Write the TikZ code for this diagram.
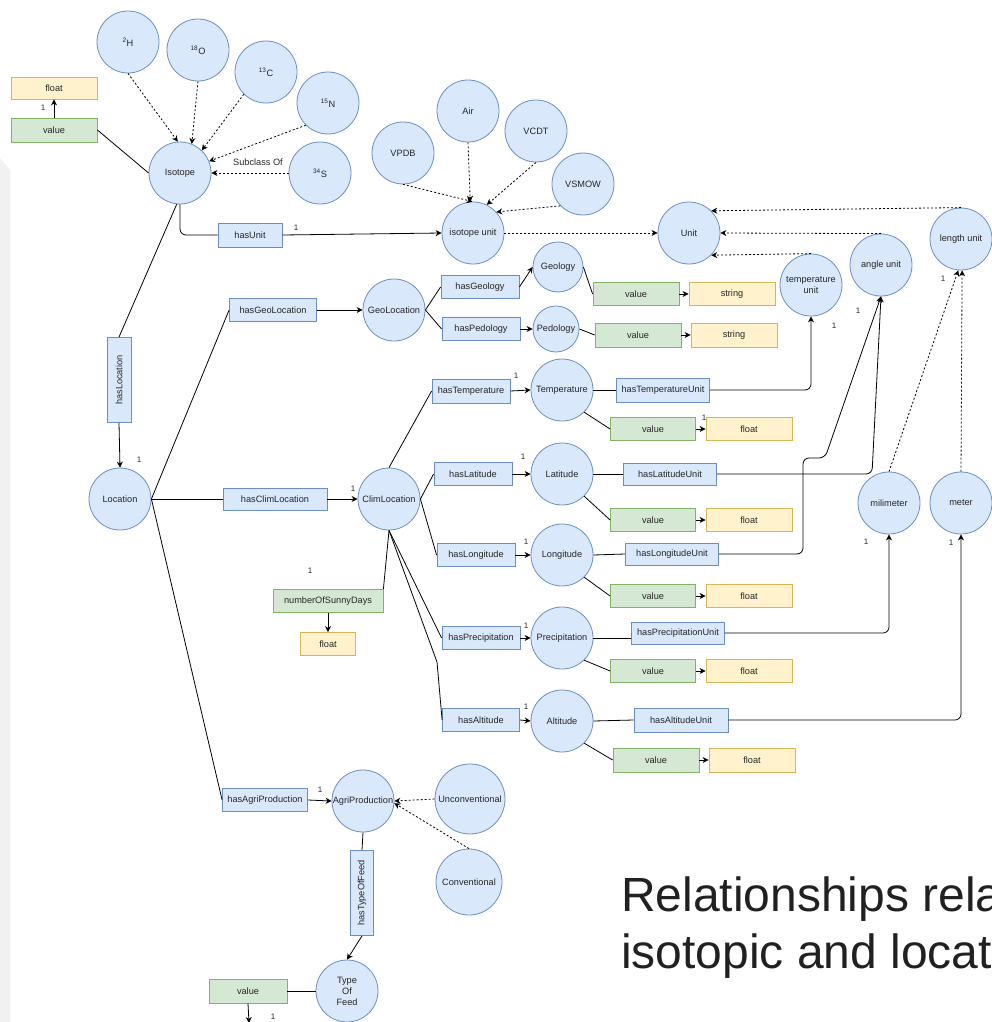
\documentclass[tikz,border=0pt]{standalone}
\usepackage{fontspec}
\setmainfont{Liberation Sans}
\usetikzlibrary{arrows.meta}

\definecolor{clsFill}{HTML}{DAE8FC}
\definecolor{clsLine}{HTML}{6C8EBF}
\definecolor{valFill}{HTML}{D5E8D4}
\definecolor{valLine}{HTML}{82B366}
\definecolor{typFill}{HTML}{FFF2CC}
\definecolor{typLine}{HTML}{D6B656}
\definecolor{sidebar}{HTML}{F1F1F1}
\definecolor{titleInk}{HTML}{212121}

\begin{document}
\begin{tikzpicture}[x=1pt,y=-1pt,
  every node/.style={font=\fontsize{9.2}{11}\selectfont, text=black!85},
  cls/.style={circle, draw=clsLine, fill=clsFill, line width=0.8pt, minimum size=62pt, inner sep=0pt, align=center},
  rel/.style={rectangle, draw=clsLine, fill=clsFill, line width=0.8pt, minimum height=23pt, inner sep=0pt},
  val/.style={rectangle, draw=valLine, fill=valFill, line width=0.8pt, minimum height=23pt, minimum width=86pt, inner sep=0pt},
  typ/.style={rectangle, draw=typLine, fill=typFill, line width=0.8pt, minimum height=23pt, minimum width=86pt, inner sep=0pt},
  link/.style={draw=black, line width=0.8pt},
  arr/.style={link, -{Stealth[length=6pt,width=6pt]}},
  sub/.style={arr, dash pattern=on 2pt off 2pt},
  card/.style={font=\fontsize{8}{9}\selectfont, inner sep=0pt},
  title/.style={anchor=base west, inner sep=0pt, text=titleInk, font=\fontsize{48}{57}\selectfont},
]
\useasboundingbox (0,0) rectangle (992,1022);
\fill[sidebar] (0,158) -- (10,170) -- (10,1022) -- (0,1022) -- cycle;

% ---------- isotopes ----------
\node[cls] (iso) at (180,173) {Isotope};
\node[cls] (h2)  at (128,42)  {\textsuperscript{2}H};
\node[cls] (o18) at (198,50)  {\textsuperscript{18}O};
\node[cls] (c13) at (266,72)  {\textsuperscript{13}C};
\node[cls] (n15) at (328,103) {\textsuperscript{15}N};
\node[cls] (s34) at (320,173) {\textsuperscript{34}S};
\node (subof) at (258,162) {Subclass Of};
\node[val, minimum height=24pt] (isoval) at (54,130) {value};
\node[typ, minimum height=22pt] (isoflt) at (54,88) {float};
\node[rel, minimum width=64pt, minimum height=24pt] (hasunit) at (250,235) {hasUnit};

% ---------- units ----------
\node[cls] (isou)  at (473,233) {isotope unit};
\node[cls] (air)   at (468,111) {Air};
\node[cls] (vcdt)  at (536,131) {VCDT};
\node[cls] (vpdb)  at (403,153) {VPDB};
\node[cls] (vsmow) at (583,184) {VSMOW};
\node[cls] (unit)  at (689,233) {Unit};
\node[cls] (lenu)  at (961,239) {length unit};
\node[cls] (angu)  at (881,265) {angle unit};
\node[cls] (tempu) at (811,285) {temperature\\unit};
\node[cls] (mili)  at (889,503) {milimeter};
\node[cls] (meter) at (961,503) {meter};

% ---------- location ----------
\node[rel, rotate=90, minimum width=85pt, minimum height=24pt] (hasloc) at (119,380) {hasLocation};
\node[cls] (loc) at (120,499) {Location};
\node[rel, minimum width=87pt] (hasgeo) at (273,310) {hasGeoLocation};
\node[cls] (geo) at (394,310) {GeoLocation};
\node[rel, minimum width=104pt, minimum height=22pt] (hasclim) at (275,499) {hasClimLocation};
\node[cls] (clim) at (389,499) {ClimLocation};

\node[rel, minimum width=78pt] (hasgeol) at (480,287) {hasGeology};
\node[rel, minimum width=78pt] (hasped)  at (481,329) {hasPedology};
\node[cls, minimum size=50pt] (geol) at (558,267) {Geology};
\node[cls, minimum size=46pt] (ped)  at (556,329) {Pedology};
\node[val] (geolval) at (636,294) {value};
\node[typ] (geolstr) at (732,294) {string};
\node[val, minimum height=24pt] (pedval) at (638,335) {value};
\node[typ, minimum height=24pt] (pedstr) at (734,335) {string};

% ---------- climate ----------
\node[rel, minimum width=78pt, minimum height=24pt] (hastemp) at (471,391) {hasTemperature};
\node[cls] (temp) at (562,390) {Temperature};
\node[rel, minimum width=93pt, minimum height=24pt] (hastempu) at (663,390) {hasTemperatureUnit};
\node[val, minimum width=85pt] (tempval) at (653,429) {value};
\node[typ] (tempflt) at (749,429) {float};

\node[rel, minimum width=78pt] (haslat) at (473,474) {hasLatitude};
\node[cls] (lat) at (562,474) {Latitude};
\node[rel, minimum width=93pt, minimum height=22pt] (haslatu) at (670,474) {hasLatitudeUnit};
\node[val, minimum width=85pt] (latval) at (653,520) {value};
\node[typ] (latflt) at (749,520) {float};

\node[rel, minimum width=78pt] (haslon) at (476,555) {hasLongitude};
\node[cls] (lon) at (562,555) {Longitude};
\node[rel, minimum width=93pt, minimum height=22pt] (haslonu) at (672,554) {hasLongitudeUnit};
\node[val, minimum width=85pt] (lonval) at (653,596) {value};
\node[typ] (lonflt) at (749,596) {float};

\node[rel, minimum width=78pt] (hasprec) at (481,638) {hasPrecipitation};
\node[cls] (prec) at (562,638) {Precipitation};
\node[rel, minimum width=93pt, minimum height=22pt] (hasprecu) at (678,633) {hasPrecipitationUnit};
\node[val, minimum width=85pt] (precval) at (653,671) {value};
\node[typ] (precflt) at (749,671) {float};

\node[rel, minimum width=77pt] (hasalt) at (481,720) {hasAltitude};
\node[cls] (alt) at (562,721) {Altitude};
\node[rel, minimum width=94pt, minimum height=24pt] (hasaltu) at (681,720) {hasAltitudeUnit};
\node[val, minimum height=24pt] (altval) at (656,760) {value};
\node[typ, minimum height=24pt] (altflt) at (752,760) {float};

\node[val, minimum width=110pt] (sunny) at (328,601) {numberOfSunnyDays};
\node[typ, minimum width=55pt] (sunnyflt) at (328,644) {float};

% ---------- agricultural production ----------
\node[rel, minimum width=85pt] (hasagri) at (265,800) {hasAgriProduction};
\node[cls] (agri) at (363,801) {AgriProduction};
\node[cls, minimum size=70pt] (unconv) at (470,799) {Unconventional};
\node[cls, minimum size=66pt] (conv) at (469,882) {Conventional};
\node[rel, rotate=90, minimum width=85pt, minimum height=23pt] (hastof) at (362,893) {hasTypeOfFeed};
\node[cls] (tof) at (347,991) {Type\\Of\\Feed};
\node[val, minimum width=78pt, minimum height=24pt] (tofval) at (248,991) {value};
\coordinate (tofend) at (249,1023);

% ---------- subclass links ----------
\draw[sub] (h2.south) -- (iso.94);
\draw[sub] (o18.south) -- (iso.68);
\draw[sub] (c13.225) -- (iso.46);
\draw[sub] (n15.225) -- (iso.22);
\draw[sub] (s34.west) -- (iso.east);
\draw[sub] (vpdb.south) -- (isou.91);
\draw[sub] (air.south) -- (isou.95);
\draw[sub] (vcdt.south) -- (isou.64);
\draw[sub] (vsmow.224) -- (isou.42);
\draw[sub] (isou.east) -- (unit.west);
\draw[sub] (lenu.north) -- (unit.45);
\draw[sub] (angu.north) -- (unit.east);
\draw[sub] (tempu.north) -- (unit.-45);
\draw[sub] (mili.north) -- (lenu.265);
\draw[sub] (meter.north) -- (lenu.272);
\draw[sub] (unconv.west) -- (agri.east);
\draw[sub] (conv.north) -- (agri.-4);

% ---------- properties ----------
\draw[link] (isoval.east) -- (iso.west);
\draw[arr] (isoval.north) -- (isoflt.south);
\draw[link, rounded corners=6pt] (iso.south) |- (hasunit.west);
\draw[arr] (hasunit.east) -- (isou.west);
\draw[link] (iso.264) -- (hasloc.east);
\draw[arr] (hasloc.west) -- (loc.north);

\draw[link] (loc.east) -- (hasgeo.west);
\draw[arr] (hasgeo.east) -- (geo.west);
\draw[link] (loc.east) -- (hasclim.west);
\draw[arr] (hasclim.east) -- (clim.west);
\draw[link] (loc.east) -- (hasagri.west);
\draw[arr] (hasagri.east) -- (agri.west);

\draw[link] (geo.east) -- (hasgeol.west);
\draw[link] (geo.east) -- (hasped.west);
\draw[arr] (hasgeol.east) -- (geol.west);
\draw[arr] (hasped.east) -- (ped.west);
\draw[link] (geol.east) -- (geolval.west);
\draw[arr] (geolval.east) -- (geolstr.west);
\draw[link] (ped.east) -- (pedval.west);
\draw[arr] (pedval.east) -- (pedstr.west);

\draw[link] (clim.north) -- (hastemp.west);
\draw[arr] (hastemp.east) -- (temp.west);
\draw[link] (temp.east) -- (hastempu.west);
\draw[arr, rounded corners=6pt] (hastempu.east) -| (tempu.south);
\draw[link] (temp.-45) -- (tempval.west);
\draw[arr] (tempval.east) -- (tempflt.west);

\draw[link] (clim.east) -- (haslat.west);
\draw[arr] (haslat.east) -- (lat.west);
\draw[link] (lat.east) -- (haslatu.west);
\draw[arr, rounded corners=6pt] (haslatu.east) -- (872,474) -- (angu.south);
\draw[link] (lat.-45) -- (latval.west);
\draw[arr] (latval.east) -- (latflt.west);

\draw[link] (clim.east) -- (haslon.west);
\draw[arr] (haslon.east) -- (lon.west);
\draw[link] (lon.east) -- (haslonu.west);
\draw[arr, rounded corners=6pt] (haslonu.east) -- (803,554) -- (803,458) -- (825,458) -- (angu.south);
\draw[link] (lon.-45) -- (lonval.west);
\draw[arr] (lonval.east) -- (lonflt.west);

\draw[link] (clim.south) -- (hasprec.west);
\draw[arr] (hasprec.east) -- (prec.west);
\draw[link] (prec.east) -- (prec.east -| hasprecu.west);
\draw[arr, rounded corners=6pt] (hasprecu.east) -| (mili.south);
\draw[link] (prec.-45) -- (precval.west);
\draw[arr] (precval.east) -- (precflt.west);

\draw[link] (clim.south) -- (437,662) -- (hasalt.west);
\draw[arr] (hasalt.east) -- (alt.west);
\draw[link] (alt.east) -- (hasaltu.west);
\draw[arr, rounded corners=6pt] (hasaltu.east) -| (meter.south);
\draw[link] (alt.-45) -- (altval.west);
\draw[arr] (altval.east) -- (altflt.west);

\draw[link] (clim.south) -- (sunny.north east);
\draw[arr] (sunny.south) -- (sunnyflt.north);

\draw[link] (agri.south) -- (hastof.east);
\draw[arr] (hastof.west) -- (tof.north);
\draw[link] (tofval.east) -- (tof.west);
\draw[arr] (tofval.south) -- (tofend);

% ---------- cardinalities ----------
\node[card] at (43,108) {1};
\node[card] at (296,228) {1};
\node[card] at (139,460) {1};
\node[card] at (353,489) {1};
\node[card] at (320,790) {1};
\node[card] at (516,376) {1};
\node[card] at (704,418) {1};
\node[card] at (523,457) {1};
\node[card] at (526,542) {1};
\node[card] at (526,626) {1};
\node[card] at (526,707) {1};
\node[card] at (834,326) {1};
\node[card] at (858,311) {1};
\node[card] at (943,279) {1};
\node[card] at (866,542) {1};
\node[card] at (951,543) {1};
\node[card] at (310,571) {1};
\node[card] at (273,1017) {1};

% ---------- caption ----------
\node[title] (cap1) at (621,911) {Relationships rela};
\node[title] (cap2) at (621,968) {isotopic and locat};
\end{tikzpicture}
\end{document}
